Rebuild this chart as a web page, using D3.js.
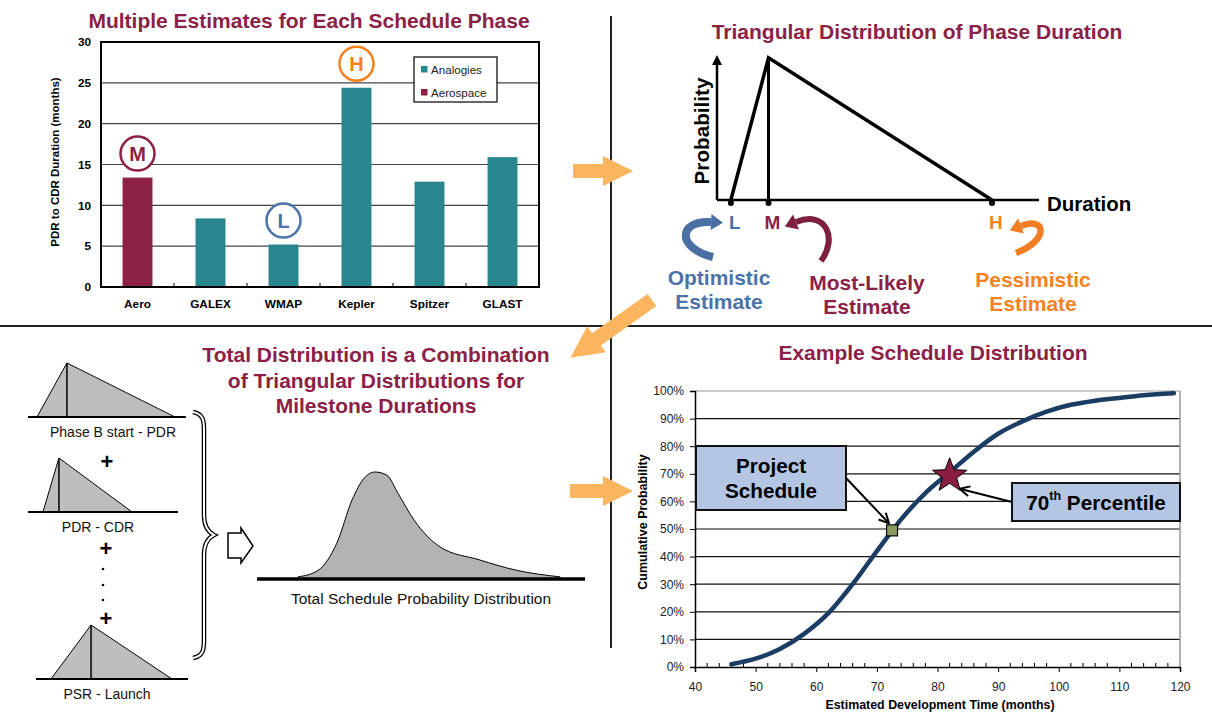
<!DOCTYPE html>
<html>
<head>
<meta charset="utf-8">
<script src="https://cdn.jsdelivr.net/npm/d3@7"></script>
<style>
  body { margin: 0; background: #fff; }
  svg { display: block; }
</style>
</head>
<body>
<div id="chart-area"></div>
<script>
// ---- datos: estimaciones por mision (PDR a CDR, meses)
const missions = ["Aero", "GALEX", "WMAP", "Kepler", "Spitzer", "GLAST"];
const durations = [13.4, 8.4, 5.2, 24.4, 12.9, 15.9];
const sources = ["Aerospace", "Analogies", "Analogies", "Analogies", "Analogies", "Analogies"];
const barTicks = [0, 5, 10, 15, 20, 25, 30];
const legendItems = ["Analogies", "Aerospace"];
const markMissions = ["Aero", "WMAP", "Kepler"];
const markLetters = ["M", "L", "H"];

// ---- distribucion triangular (unidades esquematicas)
const triLetters = ["L", "M", "H"];
const triDurations = [0.43, 1.6, 8.54];

// ---- triangulos por fase (unidades esquematicas)
const phaseNames = ["Phase B start - PDR", "PDR - CDR", "PSR - Launch"];
const phaseLow = [10, 13.5, 18.2];
const phaseMode = [27.6, 22.9, 41.8];
const phaseHigh = [91.2, 65.9, 89.4];
const phaseAxisStart = [4.7, 4.7, 9.4];
const phaseAxisEnd = [97.6, 92.9, 98.8];

// ---- distribucion total (densidad relativa)
const bellX = [12.5, 18.6, 24.4, 29, 32.6, 36, 39.6, 43, 47.9, 55.8, 67.7, 79.3, 92.4];
const bellDensity = [0.02, 0.08, 0.34, 0.74, 0.94, 1.0, 0.97, 0.80, 0.55, 0.30, 0.18, 0.08, 0.02];

// ---- curva acumulada
const cdfMonths = [46, 50, 54, 58, 62, 66, 70, 74, 78, 82, 86, 90, 94, 98, 102, 106, 110, 114, 119];
const cdfPct = [1, 3, 6.5, 12, 19.5, 30, 42, 53.5, 63, 70.5, 78, 84.5, 89, 92.5, 95, 96.5, 97.5, 98.5, 99.2];
const cdfXTicks = [40, 50, 60, 70, 80, 90, 100, 110, 120];
const cdfYTicks = [0, 0.1, 0.2, 0.3, 0.4, 0.5, 0.6, 0.7, 0.8, 0.9, 1.0];
const scheduleMonth = 72.5, schedulePct = 49.5;
const p70Month = 82, p70Pct = 70;

const width = 1212;
const height = 713;
const FONT = "'Liberation Sans', Arial, Helvetica, sans-serif";
const MAROON = "#8C2146";
const TEAL = "#27868E";
const BLUE = "#4B73A9";
const ORANGE = "#F58220";
const NAVY = "#1B3D63";
const PEACH = "#FBB55E";

const svg = d3.select("#chart-area")
    .append("svg")
    .attr("width", width)
    .attr("height", height)
    .style("font-family", FONT);

function title(lines, cx, cy, gap) {
    lines.forEach((t, i) => {
        svg.append("text")
            .attr("x", cx)
            .attr("y", cy + i * gap)
            .attr("dy", "0.35em")
            .attr("text-anchor", "middle")
            .attr("font-size", 21)
            .attr("font-weight", "bold")
            .attr("fill", MAROON)
            .text(t);
    });
}

// separadores
svg.append("line").attr("x1", 0).attr("x2", width).attr("y1", 326).attr("y2", 326)
    .attr("stroke", "#222").attr("stroke-width", 2);
svg.append("line").attr("x1", 611).attr("x2", 611).attr("y1", 16).attr("y2", 648)
    .attr("stroke", "#222").attr("stroke-width", 2);

// flechas naranjas
function blockArrow(x, y, angle, len, shaftW, headW, headL) {
    const pts = [[0, -shaftW / 2], [len - headL, -shaftW / 2], [len - headL, -headW / 2], [len, 0],
        [len - headL, headW / 2], [len - headL, shaftW / 2], [0, shaftW / 2]];
    svg.append("polygon")
        .attr("points", pts.map(p => p.join(",")).join(" "))
        .attr("transform", `translate(${x},${y}) rotate(${angle})`)
        .attr("fill", PEACH);
}
blockArrow(573, 171, 0, 60, 14, 30, 30);
blockArrow(570, 491, 0, 63, 14, 30, 30);
blockArrow(652, 300, 144.7, 100, 15, 32, 32);

// ================= panel 1: barras =================
title(["Multiple Estimates for Each Schedule Phase"], 309, 21, 0);

const xBar = d3.scaleBand().domain(missions).range([101, 539]).paddingInner(0.59).paddingOuter(0.295);
const yBar = d3.scaleLinear().domain([0, 30]).range([287, 42]);

svg.append("g").selectAll("line")
    .data(barTicks.filter(d => d > 0 && d < 30))
    .enter().append("line")
    .attr("x1", 101).attr("x2", 539)
    .attr("y1", d => yBar(d)).attr("y2", d => yBar(d))
    .attr("stroke", "#444").attr("stroke-width", 1.2);

svg.append("g").selectAll("rect")
    .data(missions)
    .enter().append("rect")
    .attr("x", d => xBar(d))
    .attr("y", (d, i) => yBar(durations[i]))
    .attr("width", xBar.bandwidth())
    .attr("height", (d, i) => yBar(0) - yBar(durations[i]))
    .attr("fill", (d, i) => sources[i] === "Aerospace" ? MAROON : TEAL);

svg.append("rect").attr("x", 101).attr("y", 42).attr("width", 438).attr("height", 245)
    .attr("fill", "none").attr("stroke", "#000").attr("stroke-width", 2);

// marcas entre categorias
svg.append("g").selectAll("line")
    .data(d3.range(1, missions.length))
    .enter().append("line")
    .attr("x1", i => 101 + i * xBar.step()).attr("x2", i => 101 + i * xBar.step())
    .attr("y1", 287).attr("y2", 283)
    .attr("stroke", "#000");

const yBarAxis = svg.append("g")
    .attr("transform", "translate(101,0)")
    .call(d3.axisLeft(yBar).tickValues(barTicks).tickSize(0).tickPadding(10));
yBarAxis.select(".domain").remove();
yBarAxis.selectAll("text").attr("font-size", 11.8).attr("font-weight", "bold").attr("font-family", FONT).attr("fill", "#000");

const xBarAxis = svg.append("g")
    .attr("transform", "translate(0,287)")
    .call(d3.axisBottom(xBar).tickSize(0).tickPadding(13));
xBarAxis.select(".domain").remove();
xBarAxis.selectAll("text").attr("font-size", 11.8).attr("font-weight", "bold").attr("font-family", FONT).attr("fill", "#000");

svg.append("text")
    .attr("transform", "translate(59,162) rotate(-90)")
    .attr("text-anchor", "middle")
    .attr("font-size", 11.5).attr("font-weight", "bold")
    .text("PDR to CDR Duration (months)");

// leyenda
svg.append("rect").attr("x", 414).attr("y", 57).attr("width", 83).attr("height", 45)
    .attr("fill", "#fff").attr("stroke", "#000").attr("stroke-width", 1.2);
legendItems.forEach((t, i) => {
    svg.append("rect").attr("x", 421).attr("y", 66 + i * 23).attr("width", 6.5).attr("height", 6.5)
        .attr("fill", t === "Aerospace" ? MAROON : TEAL);
    svg.append("text").attr("x", 431).attr("y", 69.5 + i * 23).attr("dy", "0.35em")
        .attr("font-size", 11.6).attr("fill", "#222").text(t);
});

// circulos L M H
const markColor = { M: MAROON, L: BLUE, H: ORANGE };
markMissions.forEach((m, i) => {
    const v = durations[missions.indexOf(m)];
    const cx = xBar(m) + xBar.bandwidth() / 2;
    const cy = yBar(v) - 24;
    svg.append("circle").attr("cx", cx).attr("cy", cy).attr("r", 17)
        .attr("fill", "#fff").attr("stroke", markColor[markLetters[i]]).attr("stroke-width", 2.5);
    svg.append("text").attr("x", cx).attr("y", cy).attr("dy", "0.36em")
        .attr("text-anchor", "middle").attr("font-size", 20).attr("font-weight", "bold")
        .attr("fill", markColor[markLetters[i]]).text(markLetters[i]);
});

// ================= panel 2: triangular =================
title(["Triangular Distribution of Phase Duration"], 917, 32, 0);

const xTri = d3.scaleLinear().domain([0, 10]).range([717, 1039]);
const yTri = d3.scaleLinear().domain([0, 1.02]).range([200, 55]);

svg.append("line").attr("x1", xTri(0)).attr("x2", xTri(10)).attr("y1", yTri(0)).attr("y2", yTri(0))
    .attr("stroke", "#000").attr("stroke-width", 2.5);
svg.append("line").attr("x1", xTri(0)).attr("x2", xTri(0)).attr("y1", yTri(0)).attr("y2", yTri(1.02) + 8)
    .attr("stroke", "#000").attr("stroke-width", 2.5);
svg.append("polygon")
    .attr("points", [[xTri(0) - 5, yTri(1.02) + 10], [xTri(0), yTri(1.02)], [xTri(0) + 5, yTri(1.02) + 10]].map(p => p.join(",")).join(" "))
    .attr("fill", "#000");

svg.append("path")
    .attr("d", d3.line()([[xTri(triDurations[0]), yTri(0)], [xTri(triDurations[1]), yTri(1)], [xTri(triDurations[2]), yTri(0)]]))
    .attr("fill", "none").attr("stroke", "#000").attr("stroke-width", 3.5).attr("stroke-linejoin", "miter");
svg.append("line")
    .attr("x1", xTri(triDurations[1])).attr("x2", xTri(triDurations[1]))
    .attr("y1", yTri(1)).attr("y2", yTri(0))
    .attr("stroke", "#000").attr("stroke-width", 3);

const triColor = { L: BLUE, M: MAROON, H: ORANGE };
triLetters.forEach((t, i) => {
    svg.append("circle").attr("cx", xTri(triDurations[i])).attr("cy", yTri(0) + 3).attr("r", 3).attr("fill", "#000");
    svg.append("text").attr("x", xTri(triDurations[i]) + 4).attr("y", 222).attr("dy", "0.36em")
        .attr("text-anchor", "middle").attr("font-size", 19).attr("font-weight", "bold")
        .attr("fill", triColor[t]).text(t);
});

svg.append("text")
    .attr("transform", "translate(709,131) rotate(-90)")
    .attr("text-anchor", "middle")
    .attr("font-size", 20.7).attr("font-weight", "bold")
    .text("Probability");
svg.append("text").attr("x", 1047).attr("y", 204).attr("dy", "0.36em")
    .attr("font-size", 20.5).attr("font-weight", "bold").text("Duration");

// flechas curvas
function curvedArrow(p, color, w) {
    const path = d3.path();
    path.moveTo(p[0][0], p[0][1]);
    path.bezierCurveTo(p[1][0], p[1][1], p[2][0], p[2][1], p[3][0], p[3][1]);
    svg.append("path").attr("d", path.toString())
        .attr("fill", "none").attr("stroke", color).attr("stroke-width", w);
    const dx = p[3][0] - p[2][0], dy = p[3][1] - p[2][1];
    const len = Math.hypot(dx, dy), ux = dx / len, uy = dy / len;
    const tip = [p[3][0] + ux * 12, p[3][1] + uy * 12];
    const b1 = [p[3][0] - uy * 8, p[3][1] + ux * 8];
    const b2 = [p[3][0] + uy * 8, p[3][1] - ux * 8];
    svg.append("polygon").attr("points", [tip, b1, b2].map(q => q.join(",")).join(" ")).attr("fill", color);
}
curvedArrow([[713, 257], [676, 248], [678, 220], [711, 222]], "#4A70A3", 8);
curvedArrow([[821, 261], [838, 238], [826, 210], [796, 222]], "#7E1E40", 6);
curvedArrow([[1016, 253], [1050, 240], [1046, 216], [1021, 226]], "#F07E22", 6.5);

const estTexts = [
    { lines: ["Optimistic", "Estimate"], x: 719, y: 277, c: BLUE },
    { lines: ["Most-Likely", "Estimate"], x: 867, y: 282, c: MAROON },
    { lines: ["Pessimistic", "Estimate"], x: 1033, y: 279, c: ORANGE }
];
estTexts.forEach(e => {
    e.lines.forEach((t, i) => {
        svg.append("text").attr("x", e.x).attr("y", e.y + i * 24).attr("dy", "0.36em")
            .attr("text-anchor", "middle").attr("font-size", 21).attr("font-weight", "bold")
            .attr("fill", e.c).text(t);
    });
});

// ================= panel 3: combinacion =================
title(["Total Distribution is a Combination", "of Triangular Distributions for", "Milestone Durations"], 376, 355, 25.5);

const xPhase = d3.scaleLinear().domain([0, 100]).range([20, 190]);
const yPhase = d3.scaleLinear().domain([0, 1]).range([0, -54]);
const phaseBaseY = [417, 512, 679];
const phaseLabelX = [113, 98, 107];

phaseNames.forEach((name, i) => {
    const g = svg.append("g").attr("transform", `translate(0,${phaseBaseY[i]})`);
    g.append("path")
        .attr("d", d3.line()([[xPhase(phaseLow[i]), yPhase(0)], [xPhase(phaseMode[i]), yPhase(1)], [xPhase(phaseHigh[i]), yPhase(0)]]) + "Z")
        .attr("fill", "#BDBDBD").attr("stroke", "#000").attr("stroke-width", 1);
    g.append("line").attr("x1", xPhase(phaseMode[i])).attr("x2", xPhase(phaseMode[i]))
        .attr("y1", yPhase(1)).attr("y2", 0).attr("stroke", "#000").attr("stroke-width", 1.5);
    g.append("line").attr("x1", xPhase(phaseAxisStart[i])).attr("x2", xPhase(phaseAxisEnd[i]))
        .attr("y1", 0).attr("y2", 0).attr("stroke", "#000").attr("stroke-width", 2);
    g.append("text").attr("x", phaseLabelX[i]).attr("y", 15).attr("dy", "0.36em")
        .attr("text-anchor", "middle").attr("font-size", 14).attr("fill", "#111").text(name);
});

[[107, 461], [106, 548], [106, 618]].forEach(p => {
    svg.append("text").attr("x", p[0]).attr("y", p[1]).attr("dy", "0.36em")
        .attr("text-anchor", "middle").attr("font-size", 22).attr("font-weight", "bold").text("+");
});
[569, 585, 600].forEach(y => {
    svg.append("circle").attr("cx", 103).attr("cy", y).attr("r", 1.3).attr("fill", "#000");
});

// llave
const braceD = "M193,412 C203,414 204,420 204,430 L204,515 C204,527 208,532 214,535 C208,538 204,543 204,555 L204,640 C204,650 203,656 193,658";
svg.append("path").attr("d", braceD).attr("fill", "none").attr("stroke", "#000").attr("stroke-width", 4.5);
svg.append("path").attr("d", braceD).attr("fill", "none").attr("stroke", "#fff").attr("stroke-width", 2);

// flecha hueca
svg.append("polygon")
    .attr("points", "228,533 241,533 241,528 253,546 241,563 241,558 228,558")
    .attr("fill", "#fff").attr("stroke", "#000").attr("stroke-width", 1.5);

const xBell = d3.scaleLinear().domain([0, 100]).range([257, 585]);
const yBell = d3.scaleLinear().domain([0, 1]).range([579, 472]);
const bellData = bellX.map((x, i) => [x, bellDensity[i]]);
svg.append("path")
    .datum(bellData)
    .attr("d", d3.area().x(d => xBell(d[0])).y0(yBell(0)).y1(d => yBell(d[1])).curve(d3.curveMonotoneX))
    .attr("fill", "#B3B3B3").attr("stroke", "#000").attr("stroke-width", 1);
svg.append("line").attr("x1", xBell(0)).attr("x2", xBell(100)).attr("y1", yBell(0)).attr("y2", yBell(0))
    .attr("stroke", "#000").attr("stroke-width", 3.5);
svg.append("text").attr("x", 421).attr("y", 598).attr("dy", "0.36em")
    .attr("text-anchor", "middle").attr("font-size", 15.5).attr("fill", "#111")
    .text("Total Schedule Probability Distribution");

// ================= panel 4: acumulada =================
title(["Example Schedule Distribution"], 933, 353, 0);

const xC = d3.scaleLinear().domain([40, 120]).range([695, 1180]);
const yC = d3.scaleLinear().domain([0, 1]).range([667, 391]);

svg.append("g").selectAll("line")
    .data(cdfYTicks.filter(d => d > 0))
    .enter().append("line")
    .attr("x1", xC(40)).attr("x2", xC(120))
    .attr("y1", d => yC(d)).attr("y2", d => yC(d))
    .attr("stroke", d => d === 1 ? "#999" : "#111").attr("stroke-width", 1.2);
svg.append("line").attr("x1", xC(120)).attr("x2", xC(120)).attr("y1", yC(1)).attr("y2", yC(0))
    .attr("stroke", "#999").attr("stroke-width", 1.5);

svg.append("g").selectAll("line")
    .data(d3.range(42, 120, 2).filter(d => d % 10 !== 0))
    .enter().append("line")
    .attr("x1", d => xC(d)).attr("x2", d => xC(d))
    .attr("y1", yC(0)).attr("y2", yC(0) - 4)
    .attr("stroke", "#000");

const xCAxis = svg.append("g")
    .attr("transform", `translate(0,${yC(0)})`)
    .call(d3.axisBottom(xC).tickValues(cdfXTicks).tickSize(5).tickPadding(10));
xCAxis.select(".domain").attr("stroke-width", 1.5);
xCAxis.selectAll("text").attr("font-size", 12).attr("font-family", FONT).attr("fill", "#222");

const yCAxis = svg.append("g")
    .attr("transform", `translate(${xC(40)},0)`)
    .call(d3.axisLeft(yC).tickValues(cdfYTicks).tickSize(5).tickPadding(6).tickFormat(d3.format(".0%")));
yCAxis.select(".domain").attr("stroke-width", 1.5);
yCAxis.selectAll("text").attr("font-size", 12).attr("font-family", FONT).attr("fill", "#222");

svg.append("text")
    .attr("transform", "translate(647,522) rotate(-90)")
    .attr("text-anchor", "middle")
    .attr("font-size", 12.5).attr("font-weight", "bold")
    .text("Cumulative Probability");
svg.append("text").attr("x", 940).attr("y", 705).attr("dy", "0.36em")
    .attr("text-anchor", "middle").attr("font-size", 12.4).attr("font-weight", "bold")
    .text("Estimated Development Time (months)");

const cdfData = cdfMonths.map((m, i) => [m, cdfPct[i] / 100]);
svg.append("path")
    .datum(cdfData)
    .attr("d", d3.line().x(d => xC(d[0])).y(d => yC(d[1])).curve(d3.curveMonotoneX))
    .attr("fill", "none").attr("stroke", NAVY).attr("stroke-width", 4.5).attr("stroke-linecap", "round");

// marcador: cronograma del proyecto
const sqX = xC(scheduleMonth), sqY = yC(schedulePct / 100);
svg.append("rect").attr("x", sqX - 5.5).attr("y", sqY - 5.5).attr("width", 11).attr("height", 11)
    .attr("fill", "#8A9A5B").attr("stroke", "#000").attr("stroke-width", 1.2);

// estrella: percentil 70
const stX = xC(p70Month), stY = yC(p70Pct / 100);
const starPts = d3.range(10).map(k => {
    const r = k % 2 === 0 ? 18 : 7.5;
    const a = -Math.PI / 2 + k * Math.PI / 5;
    return [stX + r * Math.cos(a), stY + 2 + r * Math.sin(a)];
});
svg.append("polygon").attr("points", starPts.map(p => p.join(",")).join(" "))
    .attr("fill", "#8B1D41").attr("stroke", "#000").attr("stroke-width", 1);

// flechas de llamada
svg.append("defs").append("marker")
    .attr("id", "open").attr("viewBox", "0 0 12 12").attr("refX", 11).attr("refY", 6)
    .attr("markerWidth", 12).attr("markerHeight", 12).attr("markerUnits", "userSpaceOnUse")
    .attr("orient", "auto")
    .append("path").attr("d", "M1,1 L11,6 L1,11").attr("fill", "none").attr("stroke", "#000").attr("stroke-width", 2);

svg.append("line").attr("x1", 846).attr("y1", 478).attr("x2", sqX - 3).attr("y2", sqY - 7)
    .attr("stroke", "#000").attr("stroke-width", 2).attr("marker-end", "url(#open)");
svg.append("line").attr("x1", 1012).attr("y1", 502).attr("x2", stX + 10).attr("y2", stY + 15)
    .attr("stroke", "#000").attr("stroke-width", 2).attr("marker-end", "url(#open)");

// cajas
svg.append("rect").attr("x", 696).attr("y", 446).attr("width", 150).attr("height", 64)
    .attr("fill", "#B4C6E3").attr("stroke", "#111").attr("stroke-width", 2);
["Project", "Schedule"].forEach((t, i) => {
    svg.append("text").attr("x", 771).attr("y", 466 + i * 25).attr("dy", "0.36em")
        .attr("text-anchor", "middle").attr("font-size", 20.7).attr("font-weight", "bold").text(t);
});
svg.append("rect").attr("x", 1012).attr("y", 483).attr("width", 168).attr("height", 38)
    .attr("fill", "#B4C6E3").attr("stroke", "#111").attr("stroke-width", 2);
const pText = svg.append("text").attr("x", 1096).attr("y", 503).attr("dy", "0.36em")
    .attr("text-anchor", "middle").attr("font-size", 20.7).attr("font-weight", "bold");
pText.append("tspan").text("70");
pText.append("tspan").attr("font-size", 12.5).attr("dy", "-0.8em").text("th");
pText.append("tspan").attr("dy", "0.48em").text(" Percentile");
</script>
</body>
</html>
